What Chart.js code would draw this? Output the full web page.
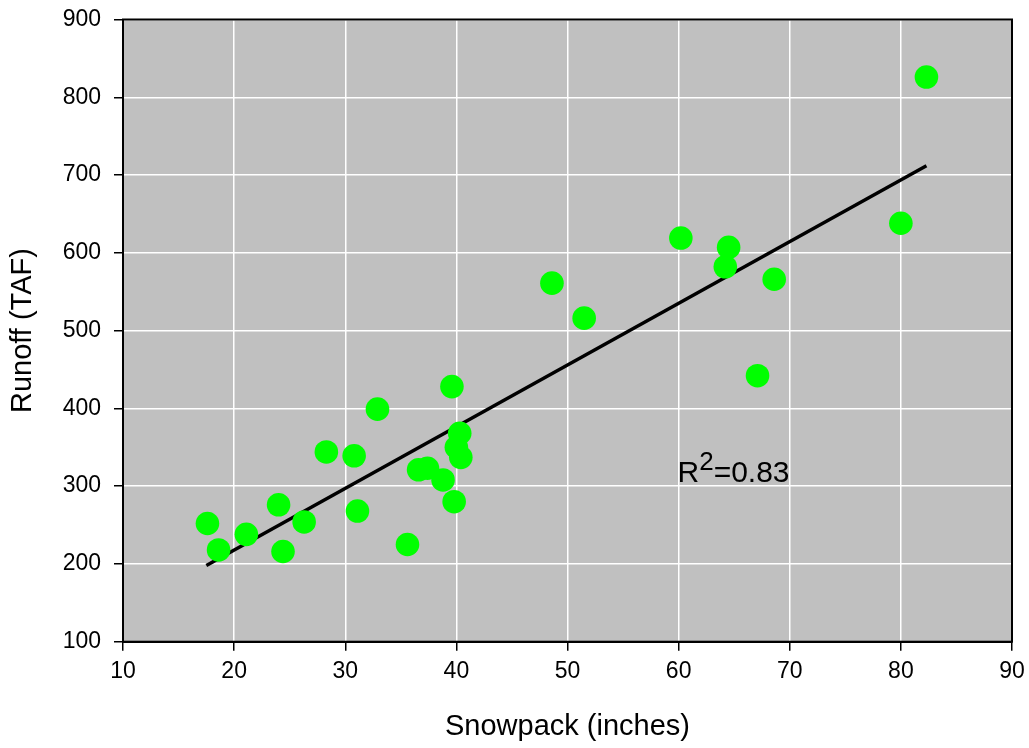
<!DOCTYPE html>
<html><head><meta charset="utf-8">
<script src="https://cdn.jsdelivr.net/npm/chart.js@4/dist/chart.umd.min.js"></script>
<style>html,body{margin:0;padding:0;background:#fff;overflow:hidden;}</style>
</head><body>
<canvas id="c" width="1029" height="748" style="display:block;width:1029px;height:748px"></canvas>
<script>
// Snowpack (inches) vs Runoff (TAF)
const snowpack = [17.6, 18.6, 21.1, 24.0, 24.4, 26.3, 28.3, 30.8, 31.1, 32.9, 35.6, 36.6, 37.4, 38.8,
                  39.6, 40.3, 40.0, 40.4, 39.8, 48.6, 51.5, 60.2, 64.5, 64.2, 68.6, 67.1, 80.0, 82.3];
const runoff   = [252, 218, 238, 276, 216, 254, 344, 339, 268, 399, 225, 321, 323, 308,
                  428, 368, 350, 337, 280, 561, 516, 619, 607, 582, 566, 442, 638, 826];
// Regression line end points
const fitX = [17.5, 82.3];
const fitY = [198, 712];
const xTicks = [10, 20, 30, 40, 50, 60, 70, 80, 90];
const yTicks = [100, 200, 300, 400, 500, 600, 700, 800, 900];
const r2Label = '0.83';

const FONT = '"Liberation Sans", Arial, sans-serif';

const plotDeco = {
  id: 'plotDeco',
  beforeDraw(chart) {
    const {ctx, chartArea: a} = chart;
    ctx.save();
    ctx.fillStyle = '#c0c0c0';
    ctx.fillRect(a.left, a.top, a.right - a.left, a.bottom - a.top);
    ctx.restore();
  },
  afterDraw(chart) {
    const {ctx, chartArea: a, scales} = chart;
    ctx.save();
    ctx.strokeStyle = '#000';
    ctx.lineWidth = 2;
    ctx.strokeRect(a.left, a.top, a.right - a.left, a.bottom - a.top);
    // R² annotation
    const x0 = scales.x.getPixelForValue(59.9);
    const yb = scales.y.getPixelForValue(305);
    ctx.fillStyle = '#000';
    ctx.textBaseline = 'alphabetic';
    ctx.textAlign = 'left';
    ctx.font = '30px ' + FONT;
    ctx.fillText('R', x0, yb);
    let x = x0 + ctx.measureText('R').width;
    ctx.font = '26px ' + FONT;
    ctx.fillText('2', x, yb - 12);
    x += ctx.measureText('2').width;
    ctx.font = '30px ' + FONT;
    ctx.fillText('=' + r2Label, x, yb);
    ctx.restore();
  }
};

new Chart(document.getElementById('c'), {
  type: 'scatter',
  data: {
    datasets: [
      {
        label: 'Observed',
        data: snowpack.map((s, i) => ({x: s, y: runoff[i]})),
        backgroundColor: '#00ff00',
        borderWidth: 0,
        pointRadius: 11.8,
        pointHoverRadius: 11.8,
        order: 0
      },
      {
        label: 'Fit',
        data: fitX.map((s, i) => ({x: s, y: fitY[i]})),
        showLine: true,
        borderColor: '#000',
        borderWidth: 3.5,
        pointRadius: 0,
        fill: false,
        order: 1
      }
    ]
  },
  options: {
    responsive: false,
    animation: false,
    events: [],
    layout: {padding: {top: 19.5, right: 17, left: 0, bottom: 0}},
    plugins: {legend: {display: false}, tooltip: {enabled: false}},
    scales: {
      x: {
        type: 'linear',
        min: xTicks[0], max: xTicks[xTicks.length - 1],
        afterBuildTicks(scale) { scale.ticks = xTicks.map(v => ({value: v})); },
        afterFit(scale) { scale.height = 106.3; scale.paddingLeft = 0; scale.paddingRight = 0; },
        grid: {color: '#ffffff', lineWidth: 1.5, tickColor: '#000', tickLength: 9, tickWidth: 1.5},
        border: {color: '#000', width: 2},
        ticks: {color: '#000', font: {family: FONT, size: 23}, padding: 7, maxRotation: 0},
        title: {display: true, text: 'Snowpack (inches)', color: '#000',
                font: {family: FONT, size: 29}, padding: {top: 0, bottom: 4}}
      },
      y: {
        type: 'linear',
        min: yTicks[0], max: yTicks[yTicks.length - 1],
        afterBuildTicks(scale) { scale.ticks = yTicks.map(v => ({value: v})); },
        afterFit(scale) { scale.width = 123; scale.paddingTop = 0; scale.paddingBottom = 0; },
        grid: {color: '#ffffff', lineWidth: 1.5, tickColor: '#000', tickLength: 9, tickWidth: 1.5},
        border: {color: '#000', width: 2},
        ticks: {color: '#000', font: {family: FONT, size: 23}, padding: 13},
        title: {display: true, text: 'Runoff (TAF)', color: '#000',
                font: {family: FONT, size: 29}, padding: {top: 6, bottom: 0}}
      }
    }
  },
  plugins: [plotDeco]
});
</script>
</body></html>
